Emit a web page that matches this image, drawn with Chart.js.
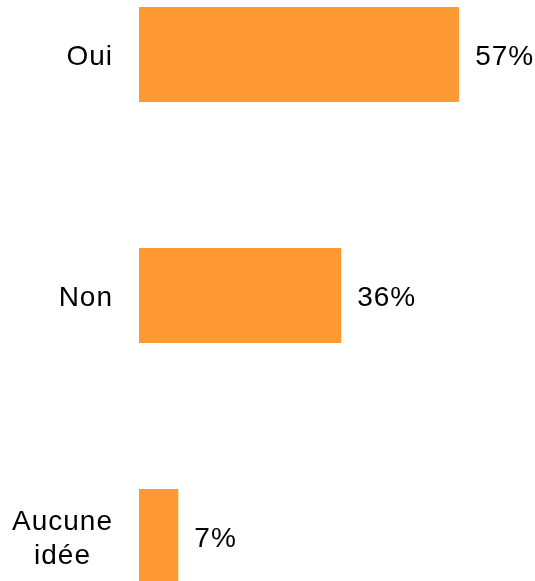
<!DOCTYPE html>
<html>
<head>
<meta charset="utf-8">
<script src="https://cdn.jsdelivr.net/npm/chart.js@4"></script>
<style>
    html, body { margin: 0; padding: 0; background: #fff; }
    #wrap { position: relative; width: 535px; height: 581px; overflow: hidden; }
    #answersChart { position: absolute; left: 0; top: -66px; }
</style>
</head>
<body>
<div id="wrap">
    <canvas id="answersChart" width="535" height="723"></canvas>
</div>
<script>
const categories = [['Oui'], ['Non'], ['Aucune', 'idée']];
const percentValues = [57, 36, 7];

const labelFont = '28px "Liberation Sans", Arial, sans-serif';

// draws the category labels (centered lines, block pushed to the right) and the % next to each bar
const textPlugin = {
    id: 'textPlugin',
    afterDatasetsDraw(chart) {
        const ctx = chart.ctx;
        const yScale = chart.scales.y;
        const capHalf = 10; // baseline sits half a cap height below the bar middle
        ctx.save();
        ctx.font = labelFont;
        ctx.letterSpacing = '1px';
        ctx.fillStyle = '#000';
        ctx.textBaseline = 'alphabetic';

        // category labels
        ctx.textAlign = 'center';
        categories.forEach((lines, i) => {
            const yMid = yScale.getPixelForTick(i);
            const maxW = Math.max(...lines.map(l => ctx.measureText(l).width));
            const cx = 113 - maxW / 2;
            const lineH = 34;
            lines.forEach((line, j) => {
                const y = yMid + (j - (lines.length - 1) / 2) * lineH + capHalf;
                ctx.fillText(line, cx, y);
            });
        });

        // value labels
        ctx.textAlign = 'left';
        chart.getDatasetMeta(0).data.forEach((bar, i) => {
            ctx.fillText(percentValues[i] + '%', bar.x + 16, bar.y + capHalf);
        });
        ctx.restore();
    }
};

const ctx1 = document.getElementById('answersChart').getContext('2d');

const myChart = new Chart(ctx1, {
    type: 'bar',
    data: {
        labels: categories,
        datasets: [{
            data: percentValues,
            backgroundColor: '#FF9933',
            borderWidth: 0,
            barPercentage: 0.395,
            categoryPercentage: 1
        }]
    },
    options: {
        indexAxis: 'y',
        responsive: false,
        animation: false,
        layout: { padding: 0 },
        plugins: {
            legend: { display: false },
            tooltip: { enabled: false }
        },
        scales: {
            x: {
                display: false,
                min: 0,
                max: 70.5
            },
            y: {
                grid: { display: false },
                border: { display: false },
                ticks: { display: false },
                afterFit(scale) {
                    scale.width = 139; // left edge of the bars
                }
            }
        }
    },
    plugins: [textPlugin]
});
</script>
</body>
</html>
